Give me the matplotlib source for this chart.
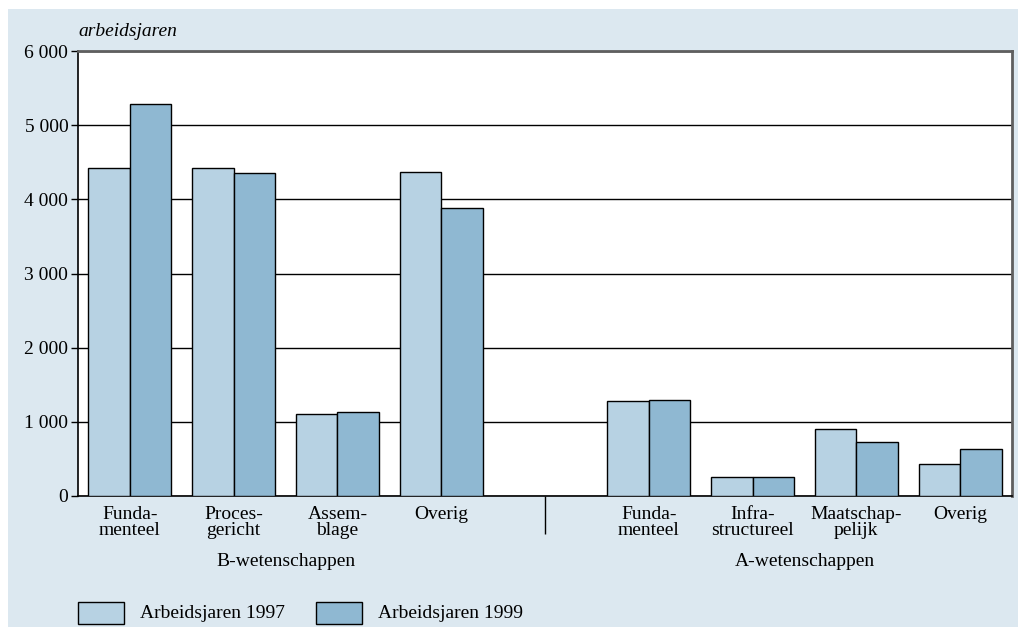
import matplotlib
matplotlib.use("Agg")
import matplotlib.pyplot as plt
from matplotlib.patches import Rectangle
import matplotlib.transforms as mtransforms

plt.rcParams['font.family'] = ['Liberation Serif', 'DejaVu Serif']

categories = ["Funda-\nmenteel", "Proces-\ngericht", "Assem-\nblage", "Overig",
              "Funda-\nmenteel", "Infra-\nstructureel", "Maatschap-\npelijk", "Overig"]
positions = [0, 1, 2, 3, 5, 6, 7, 8]
values_1997 = [4420, 4420, 1100, 4375, 1275, 250, 900, 425]
values_1999 = [5290, 4360, 1130, 3880, 1300, 250, 725, 635]
group_labels = ["B-wetenschappen", "A-wetenschappen"]
group_centers = [1.5, 6.5]
series_labels = ["Arbeidsjaren 1997", "Arbeidsjaren 1999"]
yticks = [0, 1000, 2000, 3000, 4000, 5000, 6000]
ytick_labels = ["0", "1 000", "2 000", "3 000", "4 000", "5 000", "6 000"]

W, H = 1018, 627
fs = 14
fig = plt.figure(figsize=(W / 100, H / 100), dpi=100)
fig.patch.set_facecolor('white')
bg = "#dce8f0"
c97 = "#b7d2e3"
c99 = "#8fb8d2"

fig.patches.append(Rectangle((8 / W, 0), 1 - 8 / W, (H - 9) / H, transform=fig.transFigure,
                             facecolor=bg, edgecolor='none', zorder=-10))

ax = fig.add_axes([78 / W, (H - 496) / H, 934 / W, 445 / H])
ax.set_facecolor('white')
bw = 0.4
ax.bar([p - bw / 2 for p in positions], values_1997, width=bw, color=c97,
       edgecolor='black', linewidth=1, zorder=3, label=series_labels[0])
ax.bar([p + bw / 2 for p in positions], values_1999, width=bw, color=c99,
       edgecolor='black', linewidth=1, zorder=3, label=series_labels[1])

ax.set_xlim(-0.5, 8.5)
ax.set_ylim(0, 6000)
ax.set_yticks(yticks)
ax.set_yticklabels(ytick_labels, fontsize=fs)
ax.yaxis.grid(True, color='black', linewidth=1, zorder=0)
ax.set_axisbelow(True)
ax.tick_params(axis='y', length=5, width=1, pad=2, colors='black')

ax.set_xticks(positions)
ax.set_xticklabels(categories, fontsize=fs, linespacing=0.98)
ax.tick_params(axis='x', which='major', length=0, pad=7)
ax.set_xticks([4], minor=True)
ax.tick_params(axis='x', which='minor', length=27, width=1, color='black')

for s in ['left', 'bottom']:
    ax.spines[s].set_color('black')
    ax.spines[s].set_linewidth(1.2)
for s in ['top', 'right']:
    ax.spines[s].set_color('#5f5f5f')
    ax.spines[s].set_linewidth(2)

trans = mtransforms.blended_transform_factory(ax.transData, fig.transFigure)
for lbl, cx in zip(group_labels, group_centers):
    ax.text(cx, (H - 562) / H, lbl, transform=trans, ha='center', va='center', fontsize=fs)

fig.text(78 / W, (H - 32) / H, "arbeidsjaren", style='italic', fontsize=fs,
         ha='left', va='center')

# legend
lx = [78, 316]
for i, (lab, col) in enumerate(zip(series_labels, [c97, c99])):
    fig.patches.append(Rectangle((lx[i] / W, (H - 624) / H), 46 / W, 22 / H,
                                 transform=fig.transFigure, facecolor=col,
                                 edgecolor='black', linewidth=1))
    fig.text((lx[i] + 62) / W, (H - 613) / H, lab, fontsize=fs, ha='left', va='center')

fig.savefig("out.png", dpi=100)
